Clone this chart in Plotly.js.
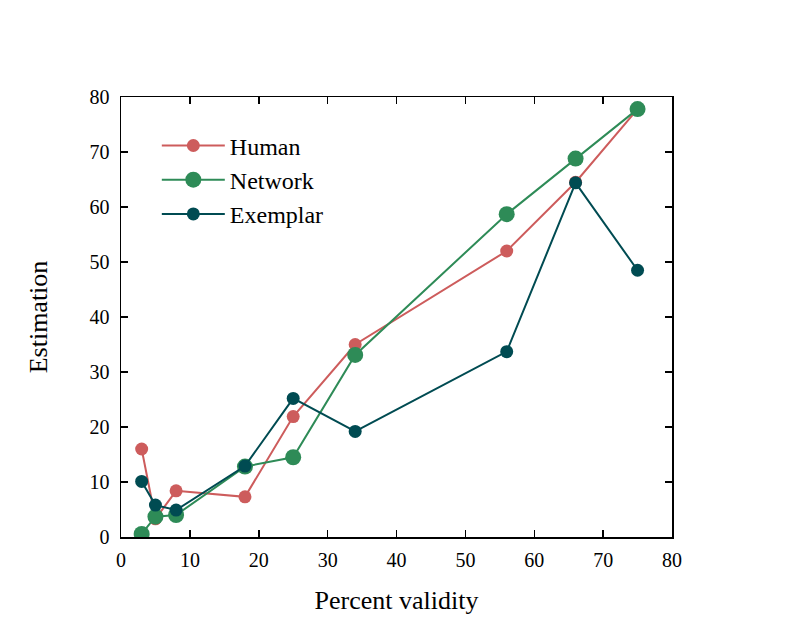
<!DOCTYPE html>
<html>
<head>
<meta charset="utf-8">
<script src="https://cdn.plot.ly/plotly-3.0.1.min.js"></script>
<style>html,body{margin:0;padding:0;background:#fff;}</style>
</head>
<body>
<div id="chart" style="width:793px;height:635px;"></div>
<script>
const validity = [3, 5, 8, 18, 25, 34, 56, 66, 75];
const human    = [16.0, 3.3, 8.4, 7.3, 21.9, 35.0, 52.0, 64.5, 77.8];
const network  = [0.55, 3.7, 4.0, 12.8, 14.5, 33.1, 58.7, 68.8, 77.8];
const exemplar = [10.1, 5.8, 4.9, 12.9, 25.2, 19.2, 33.7, 64.4, 48.5];
const xTicks = [0, 10, 20, 30, 40, 50, 60, 70, 80];
const yTicks = [0, 10, 20, 30, 40, 50, 60, 70, 80];

const font = "Liberation Serif, DejaVu Serif, serif";
const traces = [
  {x: validity, y: human, name: 'Human', mode: 'lines+markers',
   line: {color: '#cd5c5c', width: 2}, marker: {color: '#cd5c5c', size: 13}},
  {x: validity, y: network, name: 'Network', mode: 'lines+markers',
   line: {color: '#2e8b57', width: 2}, marker: {color: '#2e8b57', size: 16}},
  {x: validity, y: exemplar, name: 'Exemplar', mode: 'lines+markers',
   line: {color: '#004b52', width: 2}, marker: {color: '#004b52', size: 13}}
];
const axisCommon = {
  showgrid: false, zeroline: false, showline: true, linecolor: '#000', linewidth: 1.5,
  mirror: 'ticks', ticks: 'inside', ticklen: 7, tickwidth: 1.5, tickcolor: '#000',
  tickfont: {family: font, size: 20, color: '#000'}, fixedrange: true
};
const layout = {
  width: 793, height: 635,
  margin: {l: 121, r: 121, t: 97, b: 98},
  paper_bgcolor: '#fff', plot_bgcolor: '#fff',
  font: {family: font, color: '#000'},
  xaxis: Object.assign({}, axisCommon, {range: [0, 80], tickvals: xTicks, ticklabelstandoff: 4,
    title: {text: 'Percent validity', font: {family: font, size: 26}, standoff: 21}}),
  yaxis: Object.assign({}, axisCommon, {range: [0, 80], tickvals: yTicks, ticklabelstandoff: 6,
    title: {text: 'Estimation', font: {family: font, size: 26}, standoff: 34}}),
  legend: {x: 0.065, y: 0.94, xanchor: 'left', yanchor: 'top', bgcolor: 'rgba(0,0,0,0)',
    font: {family: font, size: 24, color: '#000'}, itemwidth: 63},
  showlegend: true
};
Plotly.newPlot('chart', traces, layout, {displayModeBar: false, staticPlot: true});
</script>
</body>
</html>
